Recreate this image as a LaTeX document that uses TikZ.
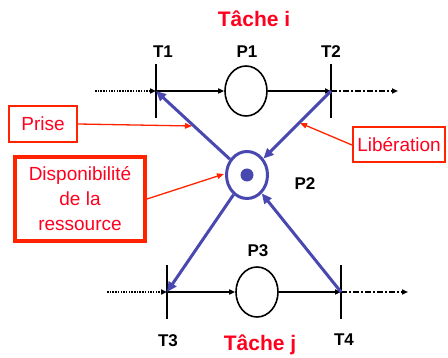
\documentclass[tikz,border=0pt]{standalone}
\usepackage{fontspec}
\setmainfont{Liberation Sans}
\usetikzlibrary{arrows.meta,shapes.geometric}
\definecolor{petriblue}{RGB}{72,72,176}
\definecolor{annotred}{RGB}{255,35,0}
\definecolor{textred}{RGB}{255,0,30}
\begin{document}
\begin{tikzpicture}[x=1pt,y=-1pt,
  tbarnode/.style={minimum width=0pt,minimum height=54pt,inner sep=0pt},
  tbarline/.style={line width=2.6pt,black},
  placenode/.style={ellipse,draw=black,line width=1.6pt,minimum width=42pt,minimum height=50pt,inner sep=0pt},
  resnode/.style={ellipse,draw=petriblue,line width=3pt,minimum width=41pt,minimum height=47pt,inner sep=0pt},
  lbl/.style={font=\fontsize{17}{19}\selectfont\bfseries,text=black,inner sep=0pt},
  title/.style={font=\fontsize{21}{23}\selectfont\bfseries,text=textred,inner sep=0pt},
  annot/.style={draw=annotred,line width=2pt,font=\fontsize{19}{25}\selectfont,text=textred,align=center,inner sep=0pt},
  flow/.style={black,line width=1.5pt,-{Triangle[length=6pt,width=5pt]}},
  dotflow/.style={black,line width=1.5pt,dash pattern=on 1.5pt off 1.2pt,-{Triangle[length=6pt,width=5pt]}},
  dashflow/.style={black,line width=1.5pt,dash pattern=on 6pt off 2pt on 2pt off 2pt,-{Triangle[length=6pt,width=5pt]}},
  bluearc/.style={petriblue,line width=3pt,-{Triangle[length=10pt,width=9pt]}},
  redarrow/.style={annotred,line width=1.3pt,-{Triangle[length=7pt,width=5.5pt]}}]
\useasboundingbox (0,0) rectangle (448,358);
% titles
\node[title] (ti) at (254,19) {Tâche i};
\node[title] (tj) at (260,345) {Tâche j};
% transitions
\node[tbarnode] (T1) at (156,91) {};
\node[tbarnode] (T2) at (331,91) {};
\node[tbarnode] (T3) at (167,292) {};
\node[tbarnode] (T4) at (341,292) {};
\foreach \t in {T1,T2,T3,T4} \draw[tbarline] (\t.north) -- (\t.south);
% places
\node[placenode] (P1) at (246,91) {};
\node[placenode] (P3) at (257,292) {};
\node[resnode] (P2) at (247,175) {};
\fill[petriblue] (P2.center) circle (6.5);
% labels
\node[lbl] (T1lab) at (163,52) {T1};
\node[lbl] (P1lab) at (247,52) {P1};
\node[lbl] (T2lab) at (331,52) {T2};
\node[lbl] (P2lab) at (305,184) {P2};
\node[lbl] (P3lab) at (258,251) {P3};
\node[lbl] (T3lab) at (168,341) {T3};
\node[lbl] (T4lab) at (344,340) {T4};
% free ends
\coordinate (in1) at (95,91);
\coordinate (out1) at (398,91);
\coordinate (in2) at (107,292);
\coordinate (out2) at (408,292);
% flows
\draw[dotflow] (in1) -- (T1.center);
\draw[flow] (T1.center) -- (P1);
\draw[flow] (P1) -- (T2.center);
\draw[dashflow] (T2.center) -- (out1);
\draw[dotflow] (in2) -- (T3.center);
\draw[flow] (T3.center) -- (P3);
\draw[flow] (P3) -- (T4.center);
\draw[dashflow] (T4.center) -- (out2);
% resource arcs
\draw[bluearc] (P2) -- (T1.center);
\draw[bluearc] (T2.center) -- (P2);
\draw[bluearc] (P2) -- (T3.center);
\draw[bluearc] (T4.center) -- (P2);
% annotations
\node[annot,minimum width=68pt,minimum height=36pt] (prise) at (43,124) {Prise};
\node[annot,minimum width=92pt,minimum height=35pt] (lib) at (399,145) {Libération};
\node[annot,line width=4pt,minimum width=130pt,minimum height=84pt] (dispo) at (80,199) {Disponibilité\\de la\\ressource};
\coordinate (prisetip) at (192,126);
\coordinate (libtip) at (300,123);
\coordinate (dispotip) at (224,174);
\draw[redarrow] (prise.east) -- (prisetip);
\draw[redarrow] (lib.west) -- (libtip);
\draw[redarrow] (dispo.east) -- (dispotip);
\end{tikzpicture}
\end{document}
